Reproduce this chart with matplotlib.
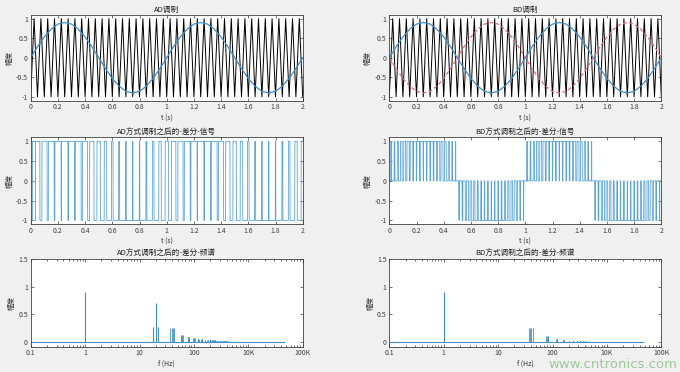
import numpy as np
import matplotlib.pyplot as plt

plt.rcParams['font.family'] = ['Noto Sans CJK SC', 'DejaVu Sans']

# ── Data ──────────────────────────────────────────────────────────────────────
# modulating signal (1 Hz, amp 0.9), sampled every 0.05 s
sig_t = np.linspace(0, 2, 41)
sig_v = np.array([0, 0.28, 0.53, 0.73, 0.86, 0.90, 0.86, 0.73, 0.53, 0.28,
                  0, -0.28, -0.53, -0.73, -0.86, -0.90, -0.86, -0.73, -0.53, -0.28,
                  0, 0.28, 0.53, 0.73, 0.86, 0.90, 0.86, 0.73, 0.53, 0.28,
                  0, -0.28, -0.53, -0.73, -0.86, -0.90, -0.86, -0.73, -0.53, -0.28,
                  0])

# triangle carrier (20 Hz) vertices, every 0.025 s
car_t = np.linspace(0, 2, 81)
car_v = np.array([-1, 1] * 40 + [-1])

# spectrum lines
ad_f = [1, 18, 20, 22]
ad_h = [0.90, 0.27, 0.70, 0.27]
ad_harm_f = [40, 60, 80, 100, 120, 140, 160, 180, 200, 220,
             240, 260, 280, 300, 320, 340, 360, 380, 400]
ad_harm_h = [0.25, 0.13, 0.10, 0.07, 0.06, 0.05, 0.045, 0.04, 0.035, 0.032,
             0.03, 0.027, 0.025, 0.023, 0.021, 0.02, 0.018, 0.017, 0.016]

bd_f = [1]
bd_h = [0.90]
bd_harm_f = [40, 80, 120, 160, 200, 240, 280, 320, 360, 400]
bd_harm_h = [0.25, 0.11, 0.06, 0.035, 0.028, 0.024, 0.02, 0.017, 0.015, 0.013]

sideband_off = [-3, -1, 1, 3]
tail_f = [400, 600, 1000, 2000]
tail_h = [0.015, 0.008, 0.003, 0.0]
spec_span = [0.05, 4600]

freq_ticks = [0.1, 1, 10, 100, 1000, 10000]
freq_labels = ["0.1", "1", "10", "100", "10K", "100K"]

# ── Derived PWM signals (comparison of the two drawn curves) ─────────────────
t = np.linspace(0, 2, 20001)
s = np.interp(t, sig_t, sig_v)
c = np.interp(t, car_t, car_v)
ad_pwm = np.where(s > c, 1, -1)
bd_pwm = np.where(s > c, 1, 0) - np.where(-s > c, 1, 0)

# ── Plot ──────────────────────────────────────────────────────────────────────
BLUE = "#3f8fcc"
LBLUE = "#5aa4dc"
fig = plt.figure(figsize=(6.8, 3.72), dpi=100, facecolor="#f0f0f0")

cols = [30.7 / 680, 389.3 / 680]
width = 272 / 680
rows = [(1 - 100.7 / 372, 86 / 372), (1 - 224.4 / 372, 87 / 372), (1 - 346.5 / 372, 87.5 / 372)]


def style(ax):
    ax.tick_params(direction="in", top=True, right=True, length=2, width=0.5,
                   labelsize=5, pad=2, colors="#404040")
    ax.tick_params(which="minor", direction="in", top=True, right=True, length=1.2, width=0.4)
    for sp in ax.spines.values():
        sp.set_linewidth(0.6)
        sp.set_color("#404040")
    ax.set_ylabel("幅度", fontsize=5, labelpad=2, color="#303030")


def time_axes(ax, title):
    ax.set_xlim(0, 2)
    ax.set_ylim(-1.1, 1.1)
    ax.set_xticks(np.arange(0, 2.01, 0.2))
    ax.set_xticklabels(["0", "0.2", "0.4", "0.6", "0.8", "1", "1.2", "1.4", "1.6", "1.8", "2"])
    ax.set_yticks([-1, -0.5, 0, 0.5, 1])
    ax.set_yticklabels(["-1", "-0.5", "0", "0.5", "1"])
    ax.set_xlabel("t (s)", fontsize=5, labelpad=2, color="#303030")
    ax.set_title(title, fontsize=5.5, pad=2, color="#202020")
    style(ax)


def spec_axes(ax, title, pf, ph, hf, hh):
    ax.plot(spec_span, [0, 0], color=BLUE, lw=0.8)
    ax.vlines(pf, 0, ph, color=BLUE, lw=0.8)
    for off in sideband_off:
        ax.vlines(np.array(hf) + off, 0, hh, color=BLUE, lw=0.6)
    ax.fill_between(tail_f, 0, tail_h, color=BLUE, lw=0)
    ax.set_xscale("log")
    ax.set_xlim(0.1, 10000)
    ax.set_ylim(-0.08, 1.5)
    ax.set_xticks(freq_ticks)
    ax.set_xticklabels(freq_labels)
    ax.set_yticks([0, 0.5, 1, 1.5])
    ax.set_yticklabels(["0", "0.5", "1", "1.5"])
    ax.set_xlabel("f (Hz)", fontsize=5, labelpad=2, color="#303030")
    ax.set_title(title, fontsize=5.5, pad=2, color="#202020")
    style(ax)


# top row: carrier + modulating signal
ax = fig.add_axes([cols[0], rows[0][0], width, rows[0][1]])
ax.plot(car_t, car_v, color="black", lw=0.7)
ax.plot(sig_t, sig_v, color=BLUE, lw=0.9)
time_axes(ax, "AD调制")

ax = fig.add_axes([cols[1], rows[0][0], width, rows[0][1]])
ax.plot(car_t, car_v, color="black", lw=0.7)
ax.plot(sig_t, sig_v, color=BLUE, lw=0.9)
ax.plot(sig_t, -sig_v, color="#e46a78", lw=0.9, ls=(0, (3, 2)))
time_axes(ax, "BD调制")

# middle row: differential PWM
ax = fig.add_axes([cols[0], rows[1][0], width, rows[1][1]])
ax.plot(t, ad_pwm, color=LBLUE, lw=0.6)
time_axes(ax, "AD方式调制之后的-差分-信号")

ax = fig.add_axes([cols[1], rows[1][0], width, rows[1][1]])
ax.plot(t, bd_pwm, color=LBLUE, lw=0.6)
time_axes(ax, "BD方式调制之后的-差分-信号")

# bottom row: spectrum
ax = fig.add_axes([cols[0], rows[2][0], width, rows[2][1]])
spec_axes(ax, "AD方式调制之后的-差分-频谱", ad_f, ad_h, ad_harm_f, ad_harm_h)

ax = fig.add_axes([cols[1], rows[2][0], width, rows[2][1]])
spec_axes(ax, "BD方式调制之后的-差分-频谱", bd_f, bd_h, bd_harm_f, bd_harm_h)

# site watermark, kept clear of the axis texts
fig.text(0.996, 0.002, "www.cntronics.com", fontsize=9.5, color="#9cc89a",
         ha="right", va="bottom", family="DejaVu Sans")

fig.savefig("out.png", dpi=100, facecolor=fig.get_facecolor())
